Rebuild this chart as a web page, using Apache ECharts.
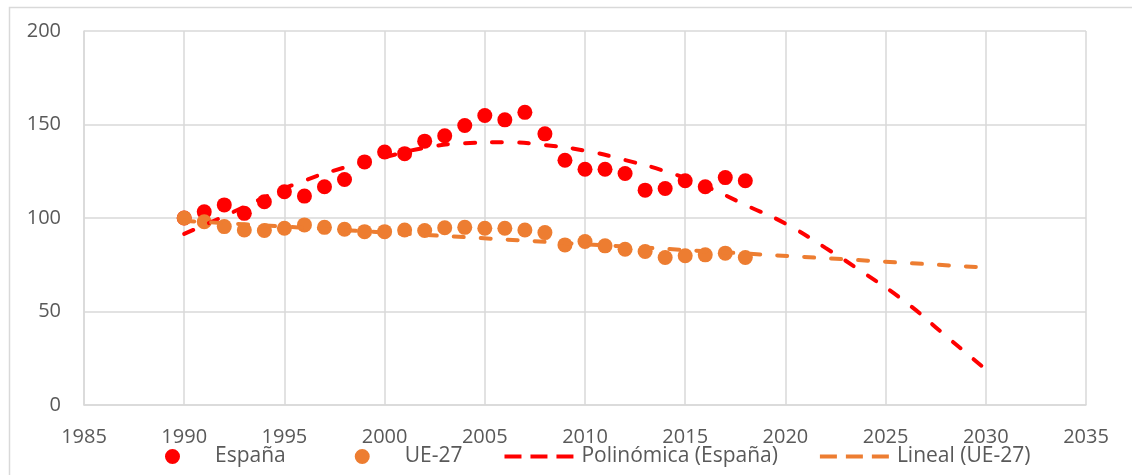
<!DOCTYPE html>
<html>
<head>
<meta charset="utf-8">
<script src="https://cdn.jsdelivr.net/npm/echarts@6/dist/echarts.min.js"></script>
<style>
html,body{margin:0;padding:0;background:#fff;}
#chart{width:1132px;height:475px;}
</style>
</head>
<body>
<div id="chart"></div>
<script>
const years = [1990,1991,1992,1993,1994,1995,1996,1997,1998,1999,2000,2001,2002,2003,2004,2005,2006,2007,2008,2009,2010,2011,2012,2013,2014,2015,2016,2017,2018];
const espana = [100,103.3,107,102.5,108.7,114,111.7,116.7,120.6,130,135.3,134.4,141.1,144,149.5,154.8,152.5,156.5,145,130.9,126.1,126.1,123.8,114.9,115.8,119.9,116.7,121.6,119.9];
const ue27 = [100,98,95.4,93.6,93.3,94.5,96.3,95,94,92.7,92.7,93.6,93.3,94.8,95,94.5,94.5,93.6,92.2,85.6,87.4,85.1,83.3,82.1,78.9,79.8,80.3,81.2,78.9];
const polyYears = [1990,1992,1994,1996,1998,2000,2002,2004,2006,2008,2010,2012,2014,2016,2018,2020,2022,2024,2026,2028,2030];
const polyValues = [91.5,101,111,120,127,132.5,137.5,140,140.5,139,136,131,125,117,107,97,84,70,55,37,19];
const linYears = [1990,2030];
const linValues = [98.5,73.5];
const seriesNames = ['España','UE-27','Polinómica (España)','Lineal (UE-27)'];

const pairs = (xs, ys) => xs.map((x, i) => [x, ys[i]]);
const textColor = '#595959';
const gridColor = '#d9d9d9';
const font = 'Open Sans';

// legend icons: a 69px-wide box, circle centred / three dashes
const dotIcon = 'path://M0,7h0.01v0.01h-0.01z M69,7h0.01v0.01h-0.01z M27,7.5a7.5,7.5 0 1,0 15,0a7.5,7.5 0 1,0 -15,0z';
const dashIcon = 'path://M0,5.5h0.01v0.01h-0.01z M69,5.5h0.01v0.01h-0.01z M0,5.5h17v4h-17z M26,5.5h17v4h-17z M52,5.5h17v4h-17z M0,0h0.01v0.01h-0.01z M0,15h0.01v0.01h-0.01z';

const chart = echarts.init(document.getElementById('chart'));
chart.setOption({
  animation: false,
  backgroundColor: '#fff',
  graphic: [{
    type: 'rect', left: 7, top: 5, shape: {width: 1300, height: 700},
    style: {fill: 'none', stroke: '#d9d9d9', lineWidth: 1.5}, z: -1, silent: true
  }],
  grid: {left: 84, right: 46, top: 31, bottom: 70, containLabel: false},
  xAxis: {
    type: 'value', min: 1985, max: 2035, interval: 5,
    axisLine: {show: true, lineStyle: {color: gridColor, width: 1.5}},
    axisTick: {show: false},
    splitLine: {show: true, lineStyle: {color: gridColor, width: 1.5}},
    axisLabel: {color: textColor, fontFamily: font, fontSize: 20, margin: 22, formatter: v => String(v)}
  },
  yAxis: {
    type: 'value', min: 0, max: 200, interval: 50,
    axisLine: {show: true, lineStyle: {color: gridColor, width: 1.5}},
    axisTick: {show: false},
    splitLine: {show: true, lineStyle: {color: gridColor, width: 1.5}},
    axisLabel: {color: textColor, fontFamily: font, fontSize: 20, margin: 23}
  },
  legend: {
    left: 138, top: 446, padding: 0,
    itemWidth: 69, itemHeight: 15, itemGap: 42,
    textStyle: {color: textColor, fontFamily: font, fontSize: 21, padding: [0, 0, 0, 3]},
    data: [
      {name: seriesNames[0], icon: dotIcon},
      {name: seriesNames[1], icon: dotIcon},
      {name: seriesNames[2], icon: dashIcon},
      {name: seriesNames[3], icon: dashIcon}
    ]
  },
  series: [
    {name: seriesNames[0], type: 'scatter', data: pairs(years, espana), symbol: 'circle', symbolSize: 15,
     itemStyle: {color: '#ff0000', opacity: 1}, z: 2},
    {name: seriesNames[1], type: 'scatter', data: pairs(years, ue27), symbol: 'circle', symbolSize: 15,
     itemStyle: {color: '#ed7d31', opacity: 1}, z: 2},
    {name: seriesNames[2], type: 'line', data: pairs(polyYears, polyValues), smooth: true, showSymbol: false,
     lineStyle: {color: '#ff0000', width: 4, type: [10, 17], cap: 'round'}, itemStyle: {color: '#ff0000'}, z: 3},
    {name: seriesNames[3], type: 'line', data: pairs(linYears, linValues), showSymbol: false,
     lineStyle: {color: '#ed7d31', width: 4, type: [10, 17], cap: 'round'}, itemStyle: {color: '#ed7d31'}, z: 3}
  ]
});
</script>
</body>
</html>
